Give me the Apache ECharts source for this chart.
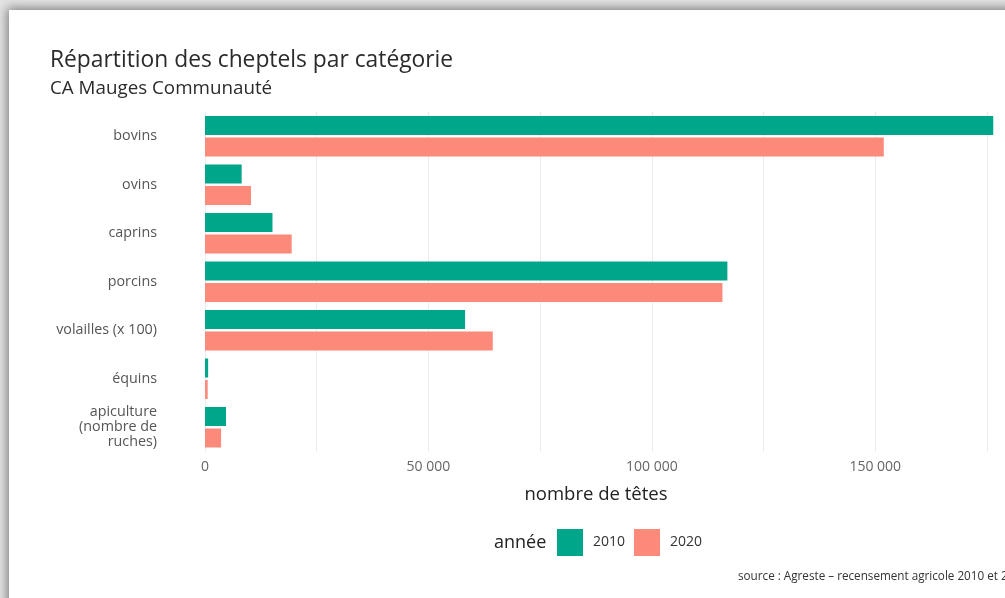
<!DOCTYPE html>
<html>
<head>
<meta charset="utf-8">
<script src="https://cdn.jsdelivr.net/npm/echarts@6/dist/echarts.min.js"></script>
<style>
html, body { margin: 0; padding: 0; }
body {
    width: 1005px;
    height: 598px;
    overflow: hidden;
    position: relative;
    background: #e4e4e4;
}
.card {
    position: absolute;
    left: 9px;
    top: 10px;
    width: 1100px;
    height: 700px;
    background: #fff;
    box-shadow: 0 0 10px 2px rgba(0, 0, 0, 0.45);
}
#cheptels-chart {
    position: absolute;
    left: 0;
    top: 0;
    width: 1005px;
    height: 598px;
}
</style>
</head>
<body>
<div class="card"></div>
<div id="cheptels-chart"></div>
<script>
// catégories (de haut en bas)
var categories = ['bovins', 'ovins', 'caprins', 'porcins', 'volailles (x 100)', 'équins', 'apiculture\n(nombre de\nruches)'];
// nombre de têtes
var values2010 = [176400, 8200, 15100, 116900, 58200, 700, 4700];
var values2020 = [151900, 10300, 19400, 115800, 64400, 600, 3600];
var years = ['2010', '2020'];

var fontFamily = '"Open Sans", Lato, sans-serif';

var myChart = echarts.init(document.getElementById('cheptels-chart'));

var option = {
    backgroundColor: 'rgba(0,0,0,0)',
    animation: false,
    textStyle: { fontFamily: fontFamily },
    title: {
        text: 'Répartition des cheptels par catégorie',
        subtext: 'CA Mauges Communauté',
        left: 45,
        top: 44,
        itemGap: 7,
        textStyle: { fontSize: 22.8, fontWeight: 'normal', color: '#2b2b2b', fontFamily: fontFamily },
        subtextStyle: { fontSize: 18.8, color: '#2b2b2b', fontFamily: fontFamily }
    },
    legend: {
        data: years,
        left: 557,
        top: 529,
        padding: 0,
        itemWidth: 26,
        itemHeight: 27,
        itemGap: 9,
        icon: 'rect',
        textStyle: { fontSize: 14, color: '#333', padding: [0, 0, 0, 5], fontFamily: fontFamily }
    },
    graphic: [
        {
            type: 'text',
            left: 494,
            top: 534,
            style: { text: 'année', fontSize: 18, fill: '#222', fontFamily: fontFamily }
        },
        {
            type: 'text',
            left: 738,
            top: 571,
            style: { text: 'source : Agreste – recensement agricole 2010 et 2020', fontSize: 11.7, fill: '#333', fontFamily: fontFamily }
        }
    ],
    grid: {
        left: 205,
        right: 18,
        top: 112,
        height: 339.5,
        containLabel: false
    },
    xAxis: {
        type: 'value',
        min: 0,
        max: 175000,
        interval: 25000,
        name: 'nombre de têtes',
        nameLocation: 'middle',
        nameGap: 34,
        nameTextStyle: { fontSize: 18.5, color: '#222', fontFamily: fontFamily },
        axisLine: { show: false },
        axisTick: { show: false },
        axisLabel: {
            margin: 9,
            fontSize: 14,
            color: '#666',
            formatter: function (v) {
                if (v % 50000 !== 0) return '';
                return v === 0 ? '0' : (v / 1000) + ' 000';
            }
        },
        splitLine: { show: true, lineStyle: { color: '#ebebeb', width: 1 } }
    },
    yAxis: {
        type: 'category',
        data: categories,
        inverse: true,
        axisLine: { show: false },
        axisTick: { show: false },
        axisLabel: {
            margin: 48,
            fontSize: 14.3,
            lineHeight: 15,
            color: '#555',
            align: 'right'
        },
        splitLine: { show: false }
    },
    series: [
        {
            name: '2010',
            type: 'bar',
            data: values2010,
            barWidth: 19,
            barGap: '13%',
            clip: false,
            itemStyle: { color: '#00a68a' }
        },
        {
            name: '2020',
            type: 'bar',
            data: values2020,
            barWidth: 19,
            barGap: '13%',
            clip: false,
            itemStyle: { color: '#fb8a7a' }
        }
    ]
};

myChart.setOption(option);
</script>
</body>
</html>
